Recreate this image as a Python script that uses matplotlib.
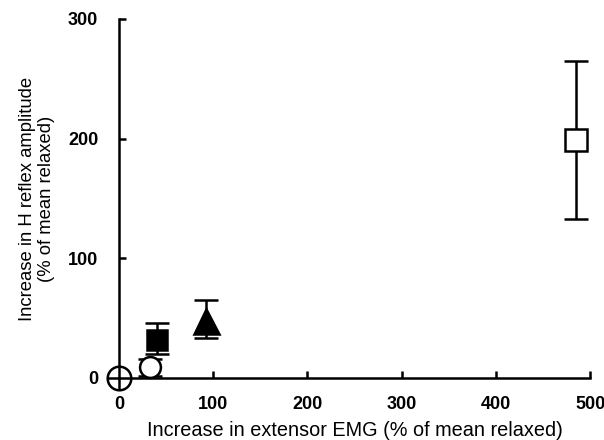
import matplotlib.pyplot as plt

plt.rcParams['font.family'] = ['Liberation Sans', 'DejaVu Sans']

# conditions: origin, open circle, filled square, triangle, open square
emg = [0, 33, 40, 92, 485]
hreflex = [0, 9, 32, 48, 199]
err_up = [0, 7, 14, 17, 66]
err_down = [0, 7, 12, 15, 66]
markers = ['o', 'o', 's', '^', 's']
faces = ['white', 'white', 'black', 'black', 'white']
sizes = [17, 15, 14, 18, 16]

fig = plt.figure(figsize=(6.04, 4.40), dpi=100)
ax = fig.add_axes([0.197, 0.141, 0.78, 0.816])

for i in range(len(emg)):
    if err_up[i] > 0:
        ax.errorbar(emg[i], hreflex[i], yerr=[[err_down[i]], [err_up[i]]],
                    fmt='none', ecolor='black', elinewidth=1.8, capsize=8.5,
                    capthick=1.8, zorder=2, clip_on=False)
    ax.plot(emg[i], hreflex[i], marker=markers[i], markersize=sizes[i],
            markerfacecolor=faces[i], markeredgecolor='black',
            markeredgewidth=1.8, linestyle='none', zorder=3, clip_on=False)

# plus sign inside the origin circle
ax.plot(emg[0], hreflex[0], marker='+', markersize=17, markeredgecolor='black',
        markeredgewidth=1.8, linestyle='none', zorder=4, clip_on=False)

ax.set_xlim(0, 500)
ax.set_ylim(0, 300)
ax.set_xticks([0, 100, 200, 300, 400, 500])
ax.set_yticks([0, 100, 200, 300])

for s in ['top', 'right']:
    ax.spines[s].set_visible(False)
for s in ['left', 'bottom']:
    ax.spines[s].set_linewidth(1.8)

ax.tick_params(axis='y', direction='in', length=5, width=1.8, pad=15,
               labelsize=13)
ax.tick_params(axis='x', direction='in', length=5, width=1.8, pad=13,
               labelsize=13)
for lab in ax.get_xticklabels() + ax.get_yticklabels():
    lab.set_fontweight('semibold')

ax.set_xlabel('Increase in extensor EMG (% of mean relaxed)', fontsize=14.3,
              labelpad=6)
ax.set_ylabel('Increase in H reflex amplitude\n(% of mean relaxed)',
              fontsize=13.3, labelpad=9)

fig.savefig('out.png', dpi=100)
